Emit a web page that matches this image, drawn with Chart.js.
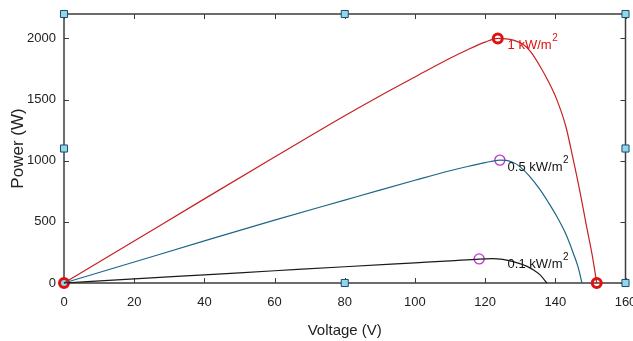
<!DOCTYPE html>
<html>
<head>
<meta charset="utf-8">
<script src="https://cdn.jsdelivr.net/npm/chart.js@4"></script>
<style>
html,body{margin:0;padding:0;background:#fff;overflow:hidden;}
#wrap{width:633px;height:341px;overflow:hidden;}
</style>
</head>
<body>
<div id="wrap"><canvas id="c" width="633" height="341"></canvas></div>
<script>
// ---- data ----
const redV   = [0, 20, 40, 60, 80, 90, 100, 110, 115, 120, 123.6, 126, 128, 130.9, 133, 135.6, 138, 140.4, 143, 145.1, 147, 148.9, 150.5, 151.8];
const redP   = [0, 344, 688, 1030, 1368, 1530, 1685, 1838, 1908, 1970, 2000, 1997, 1986, 1950, 1890, 1775, 1650, 1502, 1280, 1011, 750, 464, 230, 0];

const blueV  = [0, 20, 40, 60, 80, 90, 100, 110, 115, 120, 124.2, 126, 128, 129.9, 132.5, 135.6, 138, 140.4, 143, 145.1, 146.5, 147.6];
const blueP  = [0, 172, 344, 514, 678, 760, 840, 918, 953, 984, 1005, 1003, 985, 952, 878, 765, 660, 546, 400, 246, 130, 0];

const blackV = [0, 20, 40, 60, 80, 100, 110, 118.3, 122, 125, 128, 131.8, 133.8, 135.6, 137.6];
const blackP = [0, 34, 67, 100, 133, 165, 181, 196, 199, 193, 175, 138, 106, 68, 0];

const redMarkV = [0, 123.6, 151.8];
const redMarkP = [0, 2000, 0];
const magMarkV = [124.2, 118.3];
const magMarkP = [1005, 197];

const handleV = [0, 80, 160, 0, 160, 0, 80, 160];
const handleP = [0, 0, 0, 1100, 1100, 2200, 2200, 2200];

const xTicks = [0, 20, 40, 60, 80, 100, 120, 140, 160];
const yTicks = [0, 500, 1000, 1500, 2000];

const curveLabels = ['1 kW/m', '0.5 kW/m', '0.1 kW/m'];
const curveLabelV = [126.4, 126.4, 126.4];
const curveLabelP = [1912, 915, 123];
const curveLabelColors = ['#e01010', '#111111', '#111111'];

// ---- helpers ----
const pts = (xs, ys) => xs.map((x, i) => ({x: x, y: ys[i]}));
const REG = '"Liberation Sans", Arial, sans-serif';

const boxPlugin = {
  id: 'box',
  beforeDatasetsDraw(chart) {
    const {ctx, chartArea: a, scales: {x, y}} = chart;
    ctx.save();
    ctx.strokeStyle = '#3c3c3c';
    ctx.lineWidth = 1.5;
    ctx.strokeRect(a.left, a.top, a.right - a.left, a.bottom - a.top);
    ctx.lineWidth = 1;
    const L = 5;
    ctx.beginPath();
    xTicks.forEach(v => {
      const px = Math.round(x.getPixelForValue(v)) + 0.5;
      ctx.moveTo(px, a.bottom); ctx.lineTo(px, a.bottom - L);
      ctx.moveTo(px, a.top); ctx.lineTo(px, a.top + L);
    });
    yTicks.forEach(v => {
      const py = Math.round(y.getPixelForValue(v)) + 0.5;
      ctx.moveTo(a.left, py); ctx.lineTo(a.left + L, py);
      ctx.moveTo(a.right, py); ctx.lineTo(a.right - L, py);
    });
    ctx.stroke();
    ctx.restore();
  },
  afterDatasetsDraw(chart) {
    const {ctx, scales: {x, y}} = chart;
    ctx.save();
    ctx.textBaseline = 'alphabetic';
    ctx.textAlign = 'left';
    curveLabels.forEach((t, i) => {
      const px = x.getPixelForValue(curveLabelV[i]);
      const py = y.getPixelForValue(curveLabelP[i]);
      ctx.fillStyle = curveLabelColors[i];
      ctx.font = '13px ' + REG;
      ctx.fillText(t, px, py);
      const w = ctx.measureText(t).width;
      ctx.font = '10px ' + REG;
      ctx.fillText('2', px + w + 0.5, py - 8);
    });
    ctx.restore();
  }
};

new Chart(document.getElementById('c'), {
  type: 'scatter',
  data: {
    datasets: [
      {data: pts(blackV, blackP), showLine: true, borderColor: '#1a1a1a', borderWidth: 1.2, pointRadius: 0, cubicInterpolationMode: 'monotone', clip: false},
      {data: pts(blueV, blueP), showLine: true, borderColor: '#1d6688', borderWidth: 1.2, pointRadius: 0, cubicInterpolationMode: 'monotone', clip: false},
      {data: pts(redV, redP), showLine: true, borderColor: '#c82020', borderWidth: 1.2, pointRadius: 0, cubicInterpolationMode: 'monotone', clip: false},
      {data: pts(magMarkV, magMarkP), showLine: false, pointStyle: 'circle', pointRadius: 5, borderColor: '#c03ad0', borderWidth: 1.4, backgroundColor: 'rgba(0,0,0,0)', clip: false},
      {data: pts(redMarkV, redMarkP), showLine: false, pointStyle: 'circle', pointRadius: 4.5, borderColor: '#e01010', borderWidth: 3, backgroundColor: 'rgba(0,0,0,0)', clip: false},
      {data: pts(handleV, handleP), showLine: false, pointStyle: 'rect', pointRadius: 5, borderColor: '#1f4a66', borderWidth: 1, backgroundColor: '#8fd6ee', clip: false}
    ]
  },
  options: {
    responsive: false,
    animation: false,
    events: [],
    layout: {padding: {top: 14, right: 6, left: 0, bottom: 0}},
    plugins: {legend: {display: false}, tooltip: {enabled: false}},
    scales: {
      x: {
        type: 'linear', position: 'bottom', min: 0, max: 160,
        afterBuildTicks(s) { s.ticks = xTicks.map(v => ({value: v})); },
        afterFit(s) { s.height = 58; s.paddingLeft = 0; s.paddingRight = 0; },
        grid: {display: false, drawTicks: false},
        border: {display: false},
        ticks: {autoSkip: false, maxRotation: 0, padding: 12, color: '#222', font: {family: REG, size: 13}, callback: v => String(v)},
        title: {display: true, text: 'Voltage (V)', color: '#222', font: {family: REG, size: 15}, padding: {top: 0, bottom: 1}}
      },
      y: {
        type: 'linear', position: 'left', min: 0, max: 2200,
        afterBuildTicks(s) { s.ticks = yTicks.map(v => ({value: v})); },
        afterFit(s) { s.width = 64; s.paddingTop = 0; s.paddingBottom = 0; },
        grid: {display: false, drawTicks: false},
        border: {display: false},
        ticks: {autoSkip: false, padding: 8, color: '#222', font: {family: REG, size: 13}, callback: v => String(v)},
        title: {display: true, text: 'Power (W)', color: '#222', font: {family: REG, size: 17}, padding: {top: 8, bottom: 0}}
      }
    }
  },
  plugins: [boxPlugin]
});
</script>
</body>
</html>
